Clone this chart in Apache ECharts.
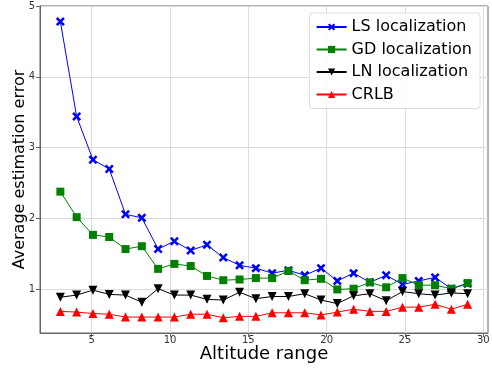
<!DOCTYPE html>
<html>
<head>
<meta charset="utf-8">
<script src="https://cdn.jsdelivr.net/npm/echarts@6/dist/echarts.min.js"></script>
<style>
  html, body { margin: 0; padding: 0; background: #fff; }
  #chart { width: 492px; height: 369px; }
</style>
</head>
<body>
<div id="chart"></div>
<script>
// altitude values (linspace 3..29, 26 points)
const altitude = []
for (let i = 0; i < 26; i++) altitude.push(+(3 + i * 26 / 25).toFixed(2))

const lsErr = [4.78, 3.44, 2.83, 2.70, 2.06, 2.01, 1.57, 1.68, 1.55, 1.63, 1.45, 1.34,
  1.30, 1.23, 1.27, 1.20, 1.30, 1.12, 1.23, 1.10, 1.20, 1.07, 1.12, 1.17, 1.01, 1.08]
const gdErr = [2.38, 2.02, 1.77, 1.74, 1.57, 1.61, 1.29, 1.36, 1.33, 1.19, 1.13, 1.14,
  1.16, 1.16, 1.26, 1.13, 1.15, 1.00, 1.01, 1.10, 1.03, 1.16, 1.06, 1.06, 1.01, 1.09]
const lnErr = [0.89, 0.92, 0.99, 0.93, 0.92, 0.82, 1.01, 0.92, 0.92, 0.86, 0.85, 0.96,
  0.87, 0.90, 0.90, 0.94, 0.85, 0.80, 0.91, 0.94, 0.84, 0.97, 0.94, 0.92, 0.95, 0.94]
const crlb = [0.69, 0.68, 0.66, 0.65, 0.61, 0.61, 0.61, 0.61, 0.65, 0.65, 0.60, 0.62,
  0.62, 0.67, 0.67, 0.67, 0.64, 0.68, 0.72, 0.69, 0.69, 0.75, 0.75, 0.79, 0.72, 0.79]

const xTicks = [5, 10, 15, 20, 25, 30]
const yTicks = [1, 2, 3, 4, 5]

const FONT = 'DejaVu Sans'
const X_SYMBOL = 'path://M0,2L2,0L5,3L8,0L10,2L7,5L10,8L8,10L5,7L2,10L0,8L3,5Z'

function pairs(ys) {
  return ys.map((y, i) => [altitude[i], y])
}

const chart = echarts.init(document.getElementById('chart'))

const axisCommon = {
  axisLine: { show: true, lineStyle: { color: '#666', width: 1 } },
  axisTick: { show: true, inside: false, length: 4, lineStyle: { color: '#666' } },
  axisLabel: { color: '#333', fontFamily: FONT, fontSize: 10 },
  splitLine: { show: true, lineStyle: { color: '#dcdcdc', width: 1 } },
  nameTextStyle: { color: '#000', fontFamily: FONT }
}

chart.setOption({
  animation: false,
  backgroundColor: '#fff',
  grid: {
    left: 40, right: 4, top: 6, bottom: 36,
    containLabel: false, outerBoundsMode: 'none',
    show: true, borderColor: '#666', borderWidth: 1
  },
  legend: {
    orient: 'vertical',
    right: 12, top: 13,
    itemWidth: 30, itemHeight: 9, itemGap: 6.5,
    padding: [6, 8, 6, 6],
    backgroundColor: 'rgba(255,255,255,0.85)',
    borderColor: '#ddd', borderWidth: 1, borderRadius: 3,
    textStyle: { fontFamily: FONT, fontSize: 16, color: '#000' },
    data: ['LS localization', 'GD localization', 'LN localization', 'CRLB']
  },
  xAxis: Object.assign({}, axisCommon, {
    type: 'value',
    min: 1.7, max: 30.3,
    name: 'Altitude range',
    nameLocation: 'middle', nameGap: 12, nameMoveOverlap: false,
    nameTextStyle: { color: '#000', fontFamily: FONT, fontSize: 18 },
    axisTick: Object.assign({}, axisCommon.axisTick, { customValues: xTicks }),
    axisLabel: Object.assign({}, axisCommon.axisLabel, { customValues: xTicks, margin: 2 }),
    splitLine: Object.assign({}, axisCommon.splitLine, { customValues: xTicks })
  }),
  yAxis: Object.assign({}, axisCommon, {
    type: 'value',
    min: 0.385, max: 5.0,
    name: 'Average estimation error',
    nameLocation: 'middle', nameGap: 12, nameMoveOverlap: false,
    nameTextStyle: { color: '#000', fontFamily: FONT, fontSize: 16 },
    axisTick: Object.assign({}, axisCommon.axisTick, { customValues: yTicks }),
    axisLabel: Object.assign({}, axisCommon.axisLabel, { customValues: yTicks, margin: 5 }),
    splitLine: Object.assign({}, axisCommon.splitLine, { customValues: yTicks })
  }),
  series: [
    {
      name: 'LS localization', type: 'line', data: pairs(lsErr),
      symbol: X_SYMBOL, symbolSize: 9,
      lineStyle: { color: '#0000ff', width: 1 },
      itemStyle: { color: '#0000ff' }
    },
    {
      name: 'GD localization', type: 'line', data: pairs(gdErr),
      symbol: 'rect', symbolSize: 8,
      lineStyle: { color: '#008000', width: 1 },
      itemStyle: { color: '#008000' }
    },
    {
      name: 'LN localization', type: 'line', data: pairs(lnErr),
      symbol: 'triangle', symbolRotate: 180, symbolSize: 9,
      lineStyle: { color: '#000000', width: 1 },
      itemStyle: { color: '#000000' }
    },
    {
      name: 'CRLB', type: 'line', data: pairs(crlb),
      symbol: 'triangle', symbolSize: 9,
      lineStyle: { color: '#ff0000', width: 1 },
      itemStyle: { color: '#ff0000' }
    }
  ]
})
</script>
</body>
</html>
